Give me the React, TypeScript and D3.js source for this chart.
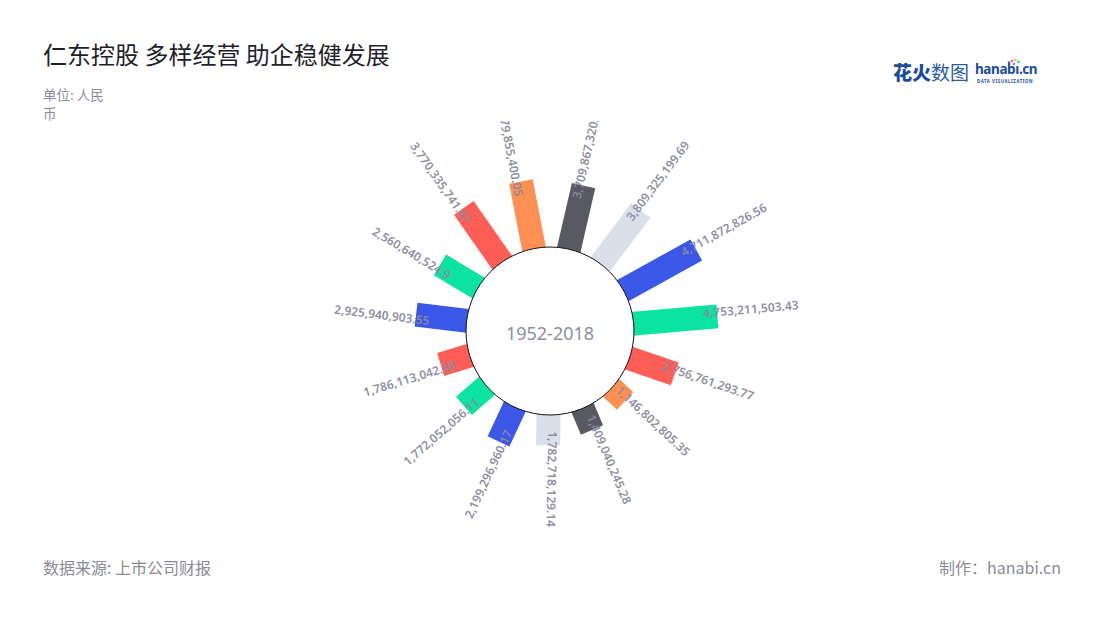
import React from "react";
import * as d3 from "d3";

const title = "仁东控股 多样经营 助企稳健发展";
const unitLine1 = "单位: 人民";
const unitLine2 = "币";
const centerLabel = "1952-2018";
const source = "数据来源: 上市公司财报";
const credit = "制作：hanabi.cn";

// bars listed clockwise, starting from the one just left of the top-left quadrant
const values = [
  2925940903.55, 2560640524.9, 3770335741.87, 3879855400.05, 3709867320.32,
  3809325199.69, 4711872826.56, 4753211503.43, 2756761293.77, 1146802805.35,
  1409040245.28, 1782718129.14, 2199296960.17, 1772052056.11, 1786113042.38,
];
const palette = ["#3a57e8", "#0be3a1", "#ff5e56", "#ff9053", "#595963", "#dadfea"];

const W = 1100;
const H = 620;
const cx = 550;
const cy = 331;
const innerR = 84;
const startAngle = 277;
const barWidth = 24;

export default function App() {
  const step = 360 / values.length;
  const rScale = d3.scaleLinear().domain([0, 5e9]).range([82, 172.5]);
  const fmt = d3.format(",");
  const rad = (a: number) => (a * Math.PI) / 180;

  const items = values.map((v, i) => {
    const theta = (startAngle + i * step) % 360;
    const r = rScale(v);
    const dx = Math.sin(rad(theta));
    const dy = -Math.cos(rad(theta));
    const lr = r - 14;
    const px = cx + lr * dx;
    const py = cy + lr * dy;
    const flip = theta > 182;
    return { v, i, theta, r, px, py, flip, color: palette[i % palette.length] };
  });

  return (
    <svg width={W} height={H} style={{ display: "block", position: "absolute", left: 0, top: 0 }}>
      <defs>
        <clipPath id="chartClip">
          <rect x={0} y={121} width={W} height={H - 121} />
        </clipPath>
      </defs>
      <rect x={0} y={0} width={W} height={H} fill="#ffffff" />
      <text x={43} y={64} fontFamily="'Noto Sans CJK SC'" fontSize={24} fill="#1f1f2c">
        {title}
      </text>
      <text x={43} y={100} fontFamily="'Noto Sans CJK SC'" fontSize={13.5} fill="#8c8c9c">
        {unitLine1}
      </text>
      <text x={43} y={119} fontFamily="'Noto Sans CJK SC'" fontSize={13.5} fill="#8c8c9c">
        {unitLine2}
      </text>

      {/* logo */}
      <g fontFamily="'Noto Sans CJK SC'">
        <text x={893} y={80} fontSize={19} fontWeight={900} fill="#1b4d9f">花火</text>
        <text x={931} y={80} fontSize={19} fontWeight={400} fill="#2a5aa8">数图</text>
        <text x={975} y={74} fontSize={13.5} fontWeight={700} fontFamily="'Noto Sans'" fill="#1b4d9f" letterSpacing={-0.4}>hanabı.cn</text>
        <text x={977} y={82.5} fontSize={4.4} fontWeight={700} fontFamily="'Noto Sans'" fill="#1b4d9f" letterSpacing={0.55}>DATA VISUALIZATION</text>
        <circle cx={1012} cy={61} r={1.3} fill="#ff5e56" />
        <circle cx={1015.5} cy={60} r={1.3} fill="#ffb23f" />
        <circle cx={1018.5} cy={62} r={1.3} fill="#0be3a1" />
        <circle cx={1009} cy={62.5} r={1.2} fill="#3a57e8" />
        <circle cx={1014} cy={64} r={1.2} fill="#c653e6" />
      </g>

      {/* bars */}
      <g>
        {items.map((d) => (
          <rect
            key={"b" + d.i}
            transform={`translate(${cx},${cy}) rotate(${d.theta})`}
            x={-barWidth / 2}
            y={-d.r}
            width={barWidth}
            height={d.r - 50}
            fill={d.color}
          />
        ))}
      </g>
      <circle cx={cx} cy={cy} r={innerR} fill="#ffffff" stroke="#111111" strokeWidth={1} />
      <text
        x={cx}
        y={340}
        textAnchor="middle"
        fontFamily="'Noto Sans'"
        fontSize={18}
        fill="#8d8da3"
      >
        {centerLabel}
      </text>

      {/* labels */}
      <g clipPath="url(#chartClip)" fontFamily="'Noto Sans'" fontSize={12} fontWeight={600} fill="#8a8aa0">
        {items.map((d) => (
          <text
            key={"l" + d.i}
            transform={`translate(${d.px},${d.py}) rotate(${d.flip ? d.theta + 90 : d.theta - 90})`}
            textAnchor={d.flip ? "end" : "start"}
            dy={d.flip ? "0.74em" : "0"}
            opacity={0.95}
          >
            {fmt(d.v)}
          </text>
        ))}
      </g>

      <text x={43} y={574} fontFamily="'Noto Sans CJK SC'" fontSize={16} fill="#8a8a9a">
        {source}
      </text>
      <text x={1061} y={574} textAnchor="end" fontFamily="'Noto Sans CJK SC'" fontSize={16} fill="#8a8a9a">
        {credit}
      </text>
    </svg>
  );
}
